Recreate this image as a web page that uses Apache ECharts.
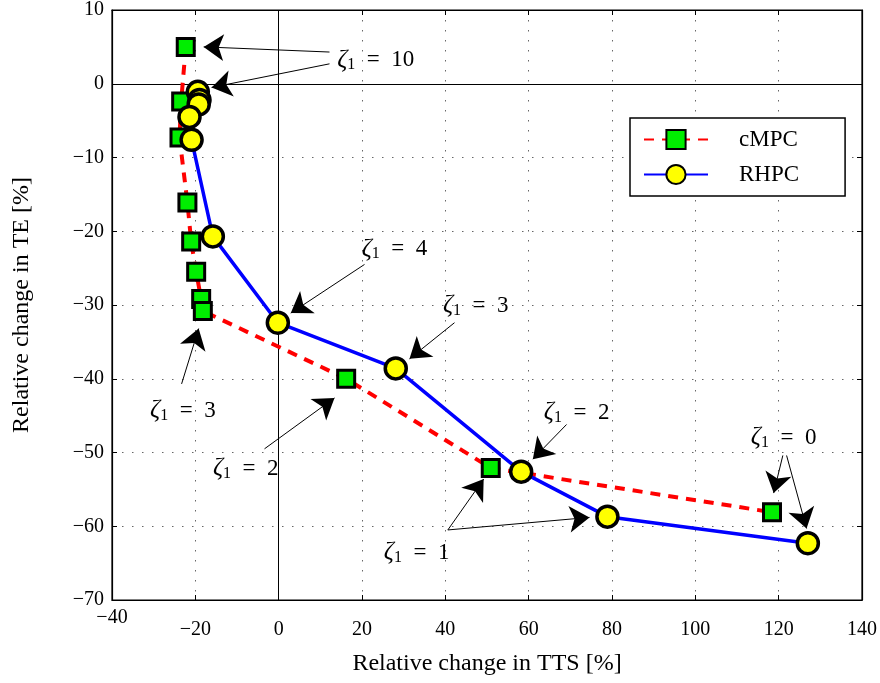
<!DOCTYPE html>
<html>
<head>
<meta charset="utf-8">
<script src="https://cdn.jsdelivr.net/npm/echarts@6/dist/echarts.min.js"></script>
<style>
  html, body { margin: 0; padding: 0; background: #fff; }
  #chart { width: 880px; height: 683px; }
</style>
</head>
<body>
<div id="chart"></div>
<script>
// Axis ranges
const xMin = -40, xMax = 140, xStep = 20;
const yMin = -70, yMax = 10, yStep = 10;

// cMPC: relative change in TTS / TE [%]
const cmpcTTS = [-22.3, -23.4, -23.8, -21.9, -21.0, -19.8, -18.6, -18.2, 16.2, 50.9, 118.4];
const cmpcTE  = [5.0, -2.4, -7.3, -16.1, -21.4, -25.5, -29.2, -30.8, -40.0, -52.1, -58.1];

// RHPC: relative change in TTS / TE [%]
const rhpcTTS = [-19.4, -19.0, -19.2, -21.4, -20.9, -15.8, -0.2, 28.1, 58.2, 78.9, 127.0];
const rhpcTE  = [-1.1, -2.2, -2.8, -4.5, -7.6, -20.7, -32.4, -38.6, -52.6, -58.7, -62.3];

// Weight annotations: zeta_1 value and text anchor (data units)
const zetaValues = ['10', '4', '3', '3', '2', '2', '1', '0'];
const zetaAnchors = [
  [23.3, 3.2], [27.8, -22.4], [47.3, -30.1], [-23.0, -44.3],
  [-7.9, -52.2], [71.5, -44.6], [33.1, -63.6], [121.2, -48.0]
];
// Arrows: [tail, head] in data units
const arrows = [
  [[12.2, 4.3], [-18.0, 5.0]],
  [[12.2, 2.7], [-16.1, -0.5]],
  [[20.6, -24.5], [2.9, -31.1]],
  [[42.2, -32.4], [31.4, -37.3]],
  [[-23.3, -40.7], [-19.2, -33.2]],
  [[-3.4, -49.5], [13.4, -42.6]],
  [[69.1, -46.2], [61.0, -50.9]],
  [[40.6, -60.5], [49.2, -53.6]],
  [[40.6, -60.5], [74.6, -58.8]],
  [[121.0, -50.4], [118.8, -55.5]],
  [[121.9, -50.4], [126.7, -60.3]]
];

const serif = 'Liberation Serif';
const minus = v => String(v).replace('-', '\u2212');
const zip = (a, b) => a.map((v, i) => [v, b[i]]);

const chart = echarts.init(document.getElementById('chart'));

const axisCommon = {
  axisLine: { show: true, onZero: false, lineStyle: { color: '#000', width: 1.2 } },
  axisTick: { show: true, inside: true, length: 5, lineStyle: { color: '#000' } },
};
const gridDots = { show: true, lineStyle: { color: '#666', type: [1.5, 8.5], width: 1 } };

chart.setOption({
  backgroundColor: '#fff',
  animation: false,
  grid: { left: 112, right: 18, top: 8, bottom: 83, show: true, borderColor: '#000', borderWidth: 1.2 },
  xAxis: [
    Object.assign({
      type: 'value', min: xMin, max: xMax, interval: xStep, position: 'bottom',
      name: 'Relative change in TTS [%]', nameLocation: 'middle', nameGap: 52,
      nameTextStyle: { fontFamily: serif, fontSize: 24, color: '#000' },
      axisLabel: {
        fontFamily: serif, fontSize: 20, color: '#000', margin: 8,
        // the leftmost label sits a little higher than the rest
        formatter: v => v === xMin ? minus(v) : '{sp| }\n' + minus(v),
        rich: { sp: { fontSize: 6, lineHeight: 12 } }
      },
      splitLine: gridDots
    }, axisCommon),
    Object.assign({
      type: 'value', min: xMin, max: xMax, interval: xStep, position: 'top',
      axisLabel: { show: false }, splitLine: { show: false }
    }, axisCommon)
  ],
  yAxis: [
    Object.assign({
      type: 'value', min: yMin, max: yMax, interval: yStep, position: 'left',
      name: 'Relative change in TE [%]', nameLocation: 'middle', nameGap: 78,
      nameTextStyle: { fontFamily: serif, fontSize: 24, color: '#000' },
      axisLabel: { fontFamily: serif, fontSize: 20, color: '#000', margin: 8, formatter: minus },
      splitLine: gridDots
    }, axisCommon),
    Object.assign({
      type: 'value', min: yMin, max: yMax, interval: yStep, position: 'right',
      axisLabel: { show: false }, splitLine: { show: false }
    }, axisCommon)
  ],
  legend: {
    orient: 'vertical', left: 630, top: 118,
    backgroundColor: '#fff', borderColor: '#000', borderWidth: 1.5, borderRadius: 0,
    padding: [10, 46, 10, 13], itemGap: 12, itemWidth: 64, itemHeight: 24,
    textStyle: { fontFamily: serif, fontSize: 23, color: '#000', padding: [0, 0, 0, 26] },
    data: ['cMPC', 'RHPC']
  },
  series: [
    {
      name: 'cMPC', type: 'line', data: zip(cmpcTTS, cmpcTE),
      symbol: 'rect', symbolSize: 17,
      lineStyle: { color: '#ff0000', width: 4, type: [10, 8] },
      itemStyle: { color: '#00ee00', borderColor: '#000', borderWidth: 3 },
      z: 3,
      markLine: {
        silent: true, symbol: 'none', label: { show: false },
        lineStyle: { color: '#000', type: 'solid', width: 1 },
        data: [{ xAxis: 0 }, { yAxis: 0 }], z: 1
      }
    },
    {
      name: 'RHPC', type: 'line', data: zip(rhpcTTS, rhpcTE),
      symbol: 'circle', symbolSize: 21,
      lineStyle: { color: '#0000ff', width: 3.5 },
      itemStyle: { color: '#ffff00', borderColor: '#000', borderWidth: 3.5 },
      z: 4
    },
    {
      name: 'arrows', type: 'scatter', data: [], silent: true, z: 5,
      markLine: {
        silent: true, animation: false,
        symbol: ['none', 'arrow'], symbolSize: 20,
        label: { show: false },
        lineStyle: { color: '#000', type: 'solid', width: 1 },
        data: arrows.map(([t, h]) => [{ coord: t }, { coord: h }])
      }
    },
    {
      name: 'zeta', type: 'scatter', silent: true, z: 6,
      symbolSize: 0, itemStyle: { opacity: 1 },
      data: zetaAnchors.map(p => ({ value: p })),
      label: {
        show: true, position: 'inside', color: '#000', opacity: 1,
        formatter: p => '{z|\u03b6}{s|1}{e|\u2002=\u2002' + zetaValues[p.dataIndex] + '}',
        rich: {
          z: { fontFamily: serif, fontStyle: 'italic', fontSize: 25, color: '#000', lineHeight: 28, verticalAlign: 'middle' },
          s: { fontFamily: serif, fontSize: 16, color: '#000', lineHeight: 16, verticalAlign: 'bottom', padding: [0, 0, 1, 0] },
          e: { fontFamily: serif, fontSize: 23, color: '#000', lineHeight: 28, verticalAlign: 'middle' }
        }
      }
    }
  ]
});
</script>
</body>
</html>
